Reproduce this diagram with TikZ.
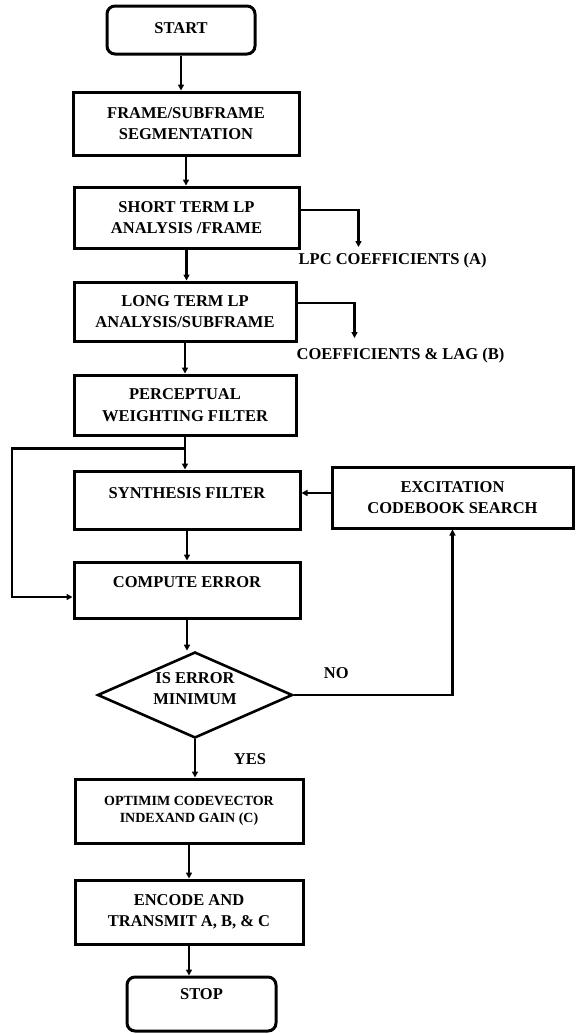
\documentclass[tikz,border=0pt]{standalone}
\usepackage{fontspec}
\setmainfont{Liberation Serif}
\usetikzlibrary{shapes.geometric,arrows.meta}

\newcommand\nd{94pt}

\begin{document}
\begin{tikzpicture}[
			vertex/.style={draw,rectangle,line width=3pt,inner sep=0pt,align=center,
				font=\bfseries\fontsize{16.5}{21.5}\selectfont},
			term/.style={vertex,rounded corners=8pt},
			decide/.style={vertex,diamond,aspect=2.27,line width=2.6pt},
			tag/.style={draw=none,inner sep=0pt,font=\bfseries\fontsize{16.5}{20}\selectfont},
			arr/.style={line width=2.5pt,-{Triangle[length=6pt,width=6pt]}},
			% node distance=10mm,
			scale=1, every node/.style={scale=1}
		]
		\useasboundingbox (0,0) rectangle (576pt,-1034pt);

		\node [term,minimum width=148pt,minimum height=48pt,text depth=4pt] (v0) at (181pt,-30pt) {START};
		\node [vertex,minimum width=226pt,minimum height=63pt] (v1) at ([shift={(5pt,-0.995*\nd)}]v0) {FRAME/SUBFRAME\\SEGMENTATION};
		\node [vertex,minimum width=225pt,minimum height=61pt] (v2) at ([shift={(0.5pt,-1*\nd)}]v1) {SHORT TERM LP\\ANALYSIS /FRAME};
		\node [vertex,minimum width=222pt,minimum height=59pt] (v3) at ([shift={(-1.5pt,-1*\nd)}]v2) {LONG TERM LP\\ANALYSIS/SUBFRAME};
		\node [vertex,minimum width=222pt,minimum height=60pt] (v4) at ([shift={(0pt,-0.995*\nd)}]v3) {PERCEPTUAL\\WEIGHTING FILTER};

		\node [vertex,minimum width=226pt,minimum height=58pt,text depth=14pt] (v5) at ([shift={(2pt,-1.01*\nd)}]v4) {SYNTHESIS FILTER};
		\node [vertex,minimum width=241pt,minimum height=61pt] (v6) at ([shift={(265.5pt,2.5pt)}]v5) {EXCITATION\\CODEBOOK SEARCH};
		\node [vertex,minimum width=226pt,minimum height=56pt,text depth=16pt] (v7) at ([shift={(0pt,-90pt)}]v5) {COMPUTE ERROR};

		\node [decide,minimum width=195pt,minimum height=86pt,text depth=13pt] (v8) at ([shift={(8pt,-105pt)}]v7) {IS ERROR\\MINIMUM};

		\node [vertex,minimum width=228pt,minimum height=64pt,font=\bfseries\fontsize{14}{17}\selectfont] (v9) at ([shift={(-6pt,-116pt)}]v8) {OPTIMIM CODEVECTOR\\INDEXAND GAIN (C)};
		\node [vertex,minimum width=228pt,minimum height=64pt] (v10) at ([shift={(0pt,-101pt)}]v9) {ENCODE AND\\TRANSMIT A, B, \& C};
		\node [term,minimum width=149pt,minimum height=54pt,text depth=20pt] (v11) at ([shift={(12.5pt,-92pt)}]v10) {STOP};

		\node [tag,anchor=west] (t0) at ([shift={(-2pt,-42.5pt)}]v2.east) {LPC COEFFICIENTS (A)};
		\node [tag,anchor=west] (t1) at ([shift={(-1pt,-43.5pt)}]v3.east) {COEFFICIENTS \& LAG (B)};
		\node [tag] (t2) at ([shift={(42.5pt,22pt)}]v8.east) {NO};
		\node [tag] (t3) at ([shift={(55pt,-20pt)}]v8.south) {YES};

		\coordinate (a0) at ([shift={(58pt,-29.5pt)}]v2.east);
		\coordinate (a1) at ([shift={(57pt,-26.5pt)}]v3.east);
		\coordinate (j0) at ([shift={(0pt,-12pt)}]v4.south);

		\draw[arr] (v0.south) -- (v0.south |- v1.north);
		\draw[arr] (v1.south) -- (v1.south |- v2.north);
		\draw[arr] (v2.south) -- (v2.south |- v3.north);
		\draw[arr] (v3.south) -- (v3.south |- v4.north);
		\draw[arr] (v4.south) -- (v4.south |- v5.north);
		\draw[arr] (v5.south) -- (v5.south |- v7.north);
		\draw[arr] (v7.south) -- (v7.south |- v8.north);
		\draw[arr] (v8.south) -- (v8.south |- v9.north);
		\draw[arr] (v9.south) -- (v9.south |- v10.north);
		\draw[arr] (v10.south) -- (v10.south |- v11.north);

		\draw[arr] ([yshift=7.5pt]v2.east) -| (a0);
		\draw[arr] ([yshift=8.5pt]v3.east) -| (a1);
		\draw[arr] (j0) -- ++(-173pt,0) |- ([yshift=-7pt]v7.west);
		\draw[arr] ([yshift=4.5pt]v6.west) -- ([yshift=4.5pt]v6.west -| v5.east);
		\draw[arr] (v8.east) -| (v6.south);
	\end{tikzpicture}
\end{document}
